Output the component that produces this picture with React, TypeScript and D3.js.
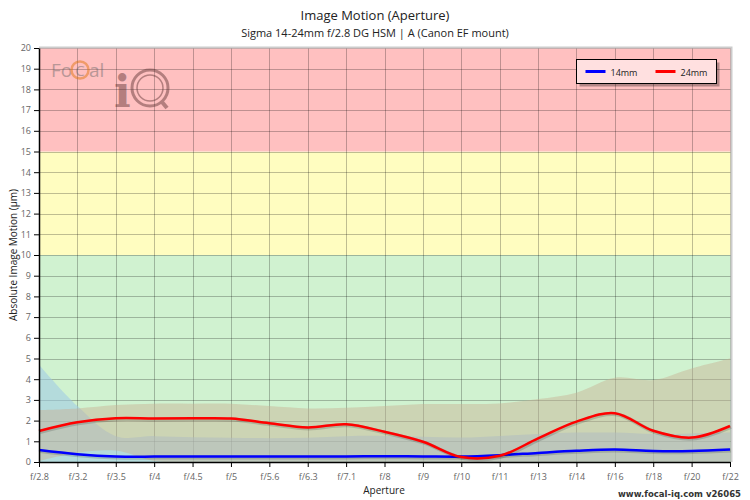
import * as d3 from 'd3';
import React, { useEffect, useRef } from 'react';

const apertures = ['f/2.8', 'f/3.2', 'f/3.5', 'f/4', 'f/4.5', 'f/5', 'f/5.6', 'f/6.3', 'f/7.1', 'f/8',
    'f/9', 'f/10', 'f/11', 'f/13', 'f/14', 'f/16', 'f/18', 'f/20', 'f/22'];

const motion14 = [0.58, 0.38, 0.27, 0.26, 0.27, 0.27, 0.27, 0.27, 0.27, 0.28,
    0.27, 0.26, 0.33, 0.44, 0.54, 0.6, 0.53, 0.53, 0.6];
const motion24 = [1.5, 1.92, 2.11, 2.1, 2.11, 2.1, 1.87, 1.67, 1.82, 1.46,
    0.98, 0.24, 0.3, 1.14, 1.95, 2.36, 1.51, 1.18, 1.74];

// spread bands behind each line
const band14Upper = [4.7, 2.7, 1.25, 1.25, 1.2, 1.17, 1.15, 1.17, 1.25, 1.26,
    1.22, 1.18, 1.26, 1.35, 1.42, 1.42, 1.35, 1.38, 1.42];
const band24Upper = [2.51, 2.59, 2.75, 2.82, 2.82, 2.82, 2.7, 2.59, 2.62, 2.7,
    2.8, 2.8, 2.83, 3.04, 3.35, 4.07, 3.96, 4.52, 5.0];
const band24Lower = [0.05, 0.45, 0.55, 0.05, 0, 0, 0, 0, 0, 0,
    0, 0, 0, 0, 0, 0, 0, 0, 0];

const zones = [
    { from: 0, to: 10, color: '#d0f2d0' },
    { from: 10, to: 15, color: '#fffdc0' },
    { from: 15, to: 20, color: '#ffc0c0' },
];

const legendItems = [
    { name: '14mm', color: '#0000ff' },
    { name: '24mm', color: '#ff0000' },
];

const App: React.FC = () => {
    const svgRef = useRef<SVGSVGElement | null>(null);

    useEffect(() => {
        const W = 750, H = 500;
        const left = 39, right = 731, top = 48, bottom = 462;
        const font = '"Open Sans", sans-serif';

        d3.select(svgRef.current).selectAll('*').remove();
        const svg = d3.select(svgRef.current).attr('width', W).attr('height', H);

        const x = d3.scalePoint<string>().domain(apertures).range([left, right - 1]);
        const y = d3.scaleLinear().domain([0, 20]).range([bottom, top]);

        // background zones
        svg.selectAll('rect.zone')
            .data(zones)
            .enter()
            .append('rect')
            .attr('x', left)
            .attr('width', right - left)
            .attr('y', d => y(d.to))
            .attr('height', d => y(d.from) - y(d.to))
            .attr('fill', d => d.color);

        // grid
        const grid = svg.append('g').attr('stroke', '#000').attr('stroke-opacity', 0.25).attr('stroke-width', 1);
        d3.range(1, 21).forEach(v => {
            grid.append('line').attr('x1', left).attr('x2', right)
                .attr('y1', Math.round(y(v)) + 0.5).attr('y2', Math.round(y(v)) + 0.5);
        });
        apertures.slice(1).forEach(a => {
            grid.append('line').attr('y1', top).attr('y2', bottom)
                .attr('x1', Math.round(x(a)!) + 0.5).attr('x2', Math.round(x(a)!) + 0.5);
        });

        // plot border (top and right)
        svg.append('path')
            .attr('d', `M${left},${top - 0.5}H${right + 0.5}V${bottom}`)
            .attr('fill', 'none').attr('stroke', '#cccccc').attr('stroke-width', 2);

        // logo
        const logo = svg.append('g').attr('opacity', 0.45);
        logo.append('text').attr('x', 51).attr('y', 77).attr('font-family', font)
            .attr('font-size', 19).attr('fill', '#666').text('Fo');
        logo.append('text').attr('x', 80).attr('y', 76).attr('text-anchor', 'middle').attr('font-family', font)
            .attr('font-size', 15).attr('fill', '#666').text('C');
        logo.append('text').attr('x', 89).attr('y', 77).attr('font-family', font)
            .attr('font-size', 19).attr('fill', '#666').text('al');
        logo.append('circle').attr('cx', 80).attr('cy', 70).attr('r', 8.5)
            .attr('fill', 'none').attr('stroke', '#e07000').attr('stroke-width', 2.5);
        logo.append('text').attr('x', 114).attr('y', 107).attr('font-family', '"DejaVu Serif", serif')
            .attr('font-weight', 'bold').attr('font-size', 44).attr('fill', '#5a3030').text('i');
        logo.append('circle').attr('cx', 150).attr('cy', 88).attr('r', 18)
            .attr('fill', 'none').attr('stroke', '#5a3030').attr('stroke-width', 3);
        logo.append('circle').attr('cx', 150).attr('cy', 88).attr('r', 13)
            .attr('fill', 'none').attr('stroke', '#5a3030').attr('stroke-width', 1.5);
        logo.append('line').attr('x1', 162).attr('y1', 102).attr('x2', 167).attr('y2', 108)
            .attr('stroke', '#5a3030').attr('stroke-width', 4);

        const curve = d3.curveCatmullRom.alpha(0.5);

        // spread bands
        const area14 = d3.area<number>()
            .x((_, i) => x(apertures[i])!)
            .y0(() => y(0))
            .y1(d => y(d))
            .curve(curve);
        svg.append('path').datum(band14Upper).attr('d', area14)
            .attr('fill', '#9cc8e6').attr('fill-opacity', 0.55);

        const area24 = d3.area<number>()
            .x((_, i) => x(apertures[i])!)
            .y0((_, i) => y(band24Lower[i]))
            .y1(d => y(d))
            .curve(curve);
        svg.append('path').datum(band24Upper).attr('d', area24)
            .attr('fill', '#c8b092').attr('fill-opacity', 0.45);

        // lines
        const line = d3.line<number>()
            .x((_, i) => x(apertures[i])!)
            .y(d => y(d))
            .curve(curve);
        [motion14, motion24].forEach((series, k) => {
            svg.append('path').datum(series).attr('d', line)
                .attr('fill', 'none').attr('stroke', '#000').attr('stroke-opacity', 0.15)
                .attr('stroke-width', 4).attr('transform', 'translate(1,1)');
            svg.append('path').datum(series).attr('d', line)
                .attr('fill', 'none').attr('stroke', legendItems[k].color).attr('stroke-width', 2.5);
        });

        // axes
        const yAxis = svg.append('g').attr('transform', `translate(${left},0)`)
            .call(d3.axisLeft(y).ticks(20).tickSize(5).tickSizeOuter(0));
        const xAxis = svg.append('g').attr('transform', `translate(0,${bottom})`)
            .call(d3.axisBottom(x).tickSize(5).tickSizeOuter(0));
        [yAxis, xAxis].forEach(ax => {
            ax.select('.domain').attr('stroke', '#000').attr('stroke-width', 1.5);
            ax.selectAll('.tick line').attr('stroke', '#000');
            ax.selectAll('.tick text').attr('fill', '#666').attr('font-family', font).attr('font-size', 9);
        });
        xAxis.selectAll('.tick text').attr('dy', '1.1em');

        // titles
        svg.append('text').attr('x', W / 2).attr('y', 20).attr('text-anchor', 'middle')
            .attr('font-family', font).attr('font-size', 13).attr('fill', '#222').text('Image Motion (Aperture)');
        svg.append('text').attr('x', W / 2).attr('y', 37).attr('text-anchor', 'middle')
            .attr('font-family', font).attr('font-size', 11).attr('fill', '#222')
            .text('Sigma 14-24mm f/2.8 DG HSM | A (Canon EF mount)');
        svg.append('text').attr('transform', `translate(17,${(top + bottom) / 2}) rotate(-90)`)
            .attr('text-anchor', 'middle').attr('font-family', font).attr('font-size', 10).attr('fill', '#222')
            .text('Absolute Image Motion (µm)');
        svg.append('text').attr('x', 384).attr('y', 494).attr('text-anchor', 'middle')
            .attr('font-family', font).attr('font-size', 10).attr('fill', '#222').text('Aperture');
        svg.append('text').attr('x', 741).attr('y', 497).attr('text-anchor', 'end')
            .attr('font-family', '"DejaVu Sans", sans-serif').attr('font-weight', 'bold')
            .attr('font-size', 8.5).attr('fill', '#333').text('www.focal-iq.com  v26065');

        // legend
        const lg = svg.append('g').attr('transform', 'translate(576.5,59.5)');
        lg.append('rect').attr('x', 3).attr('y', 3).attr('width', 140).attr('height', 24)
            .attr('fill', '#000').attr('fill-opacity', 0.3);
        lg.append('rect').attr('width', 140).attr('height', 24)
            .attr('fill', '#ffe0e0').attr('stroke', '#000').attr('stroke-width', 1);
        legendItems.forEach((d, i) => {
            const gx = 9 + i * 70;
            lg.append('line').attr('x1', gx).attr('x2', gx + 20).attr('y1', 12).attr('y2', 12)
                .attr('stroke', d.color).attr('stroke-width', 3);
            lg.append('text').attr('x', gx + 25).attr('y', 16).attr('font-family', font)
                .attr('font-size', 9).attr('fill', '#222').text(d.name);
        });
    }, []);

    return <svg ref={svgRef} style={{ position: 'absolute', left: 0, top: 0 }}></svg>;
};

export default App;
